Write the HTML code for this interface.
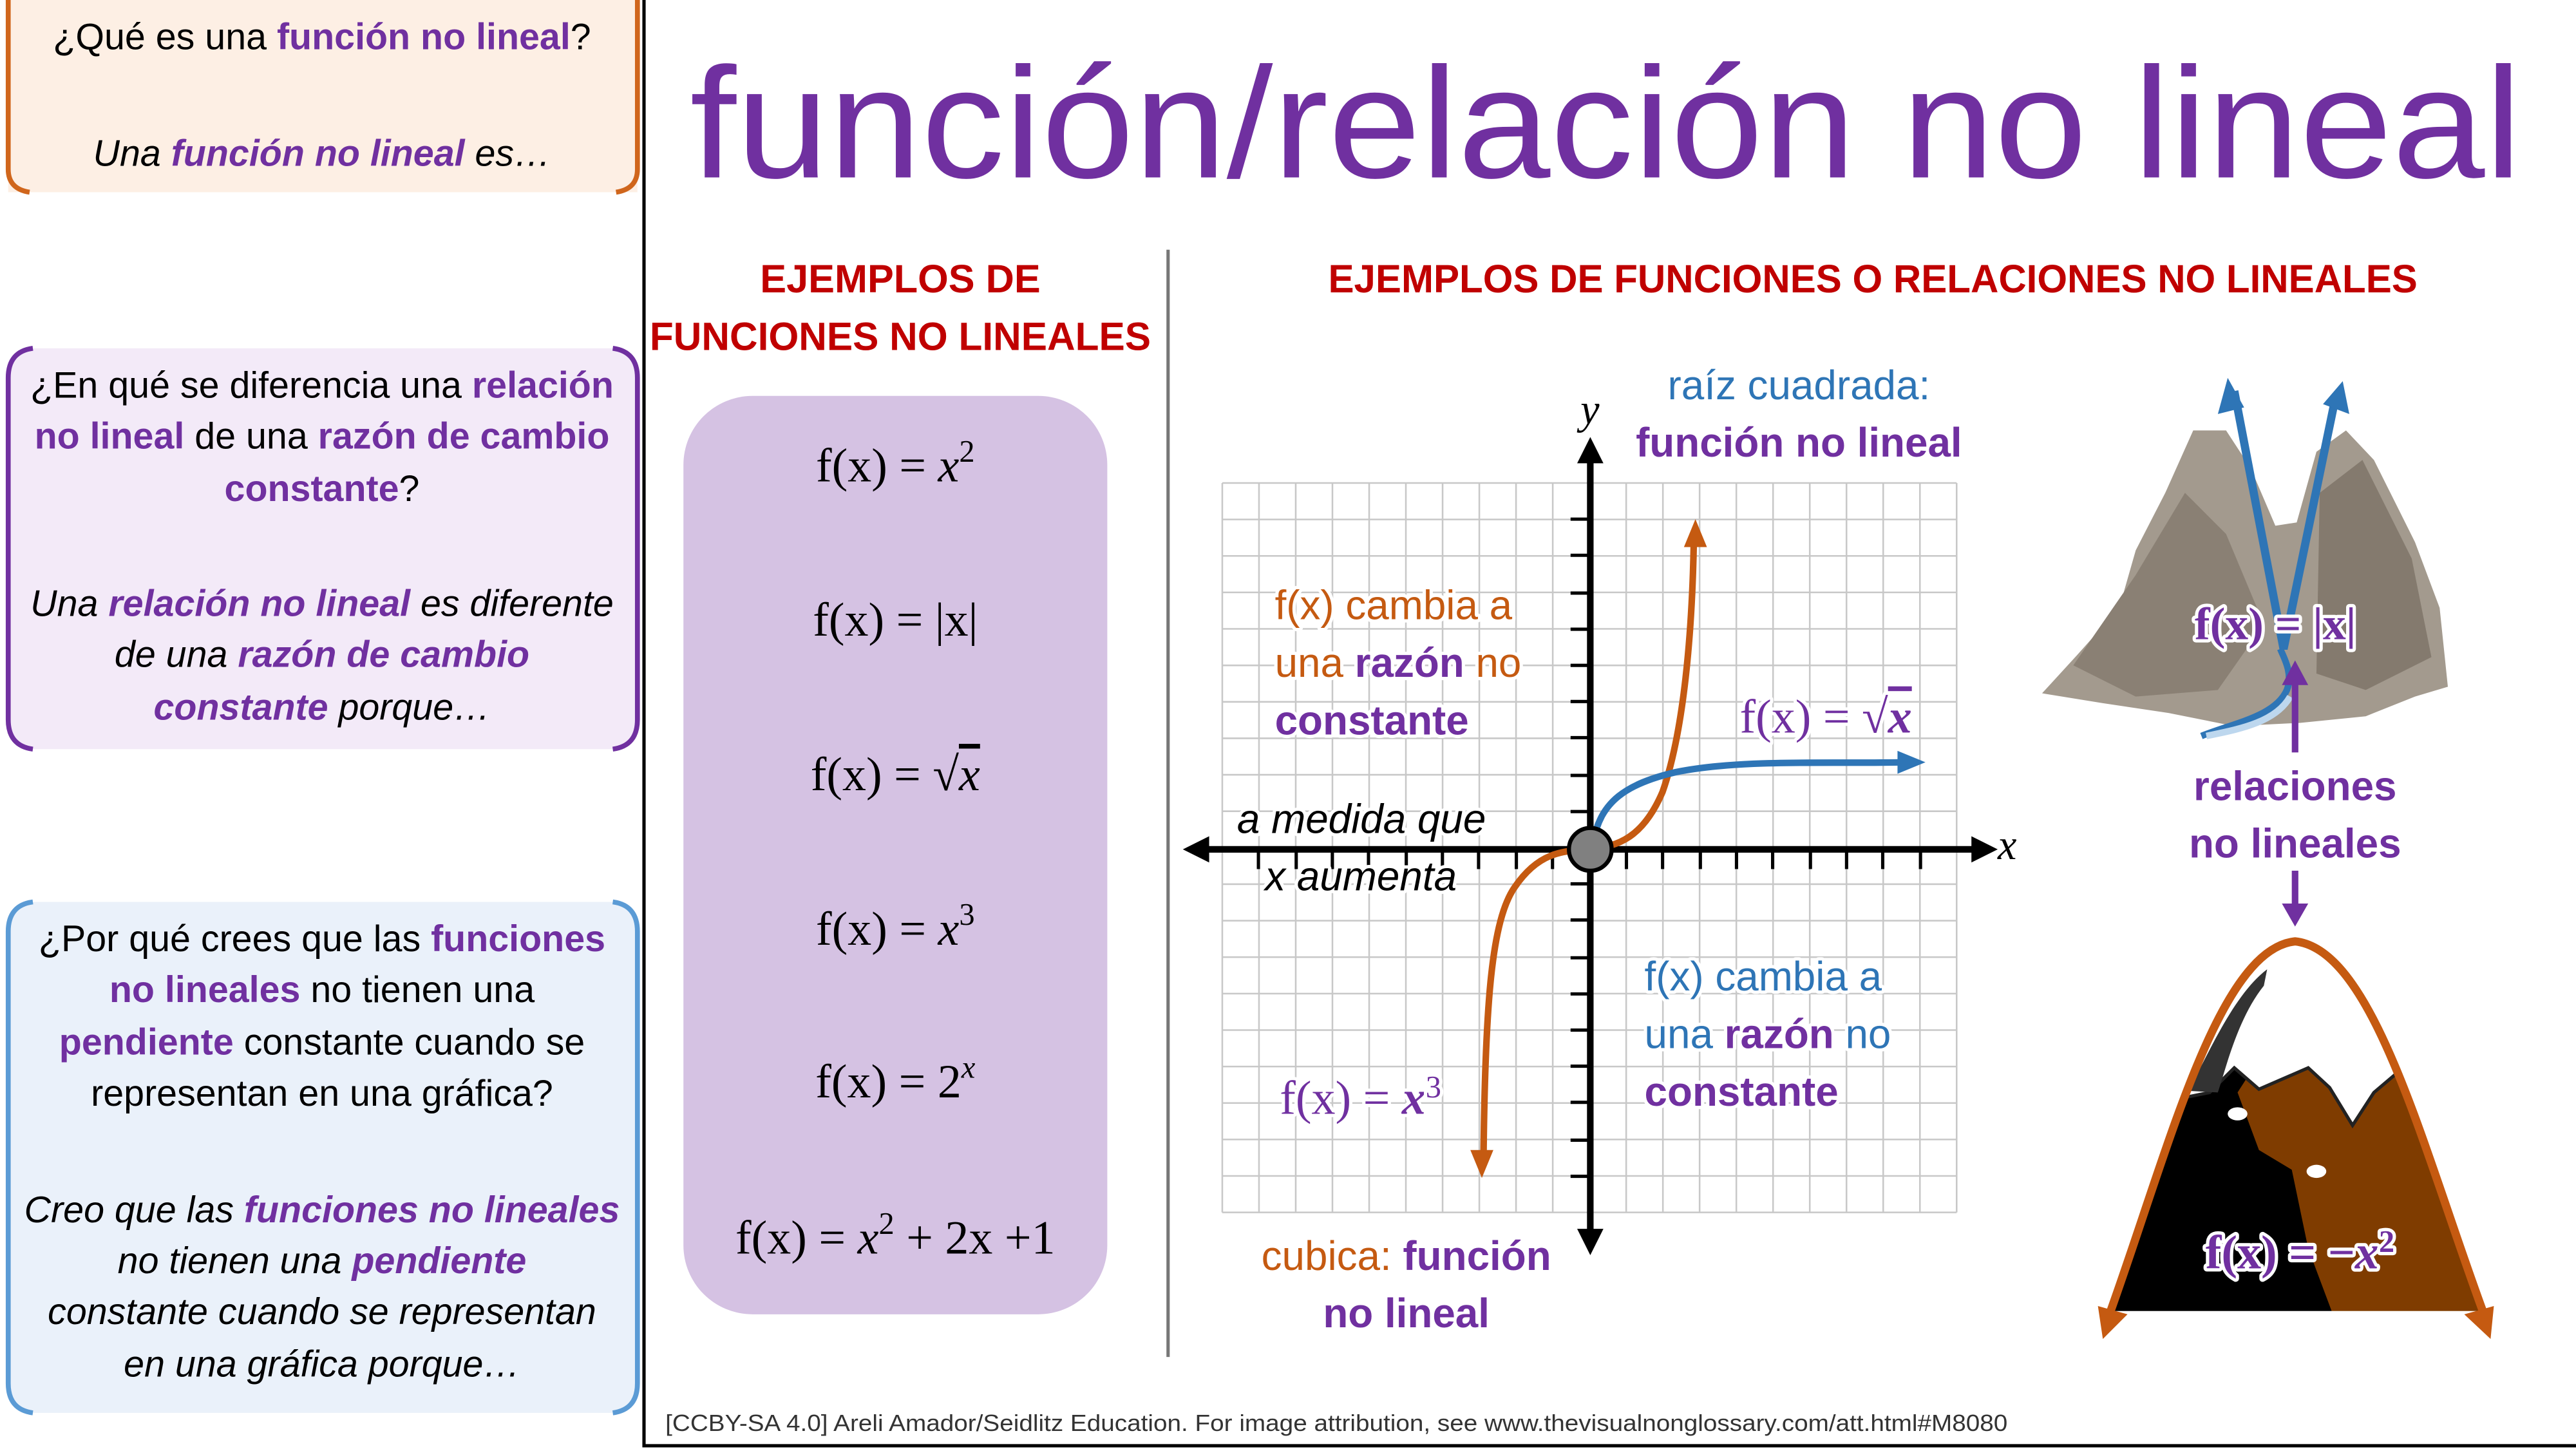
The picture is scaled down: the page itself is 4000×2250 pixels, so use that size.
<!DOCTYPE html>
<html><head><meta charset="utf-8"><style>
html,body{margin:0;padding:0;background:#fff}
svg{display:block}
text{font-family:"Liberation Sans",sans-serif}
.s, .s text, text.s{font-family:"Liberation Serif",serif}
.h{paint-order:stroke;stroke:#fff;stroke-width:4px;stroke-linejoin:round}
</style></head><body>
<svg width="4000" height="2250" viewBox="0 0 1568 882" xmlns="http://www.w3.org/2000/svg">
<defs>
<clipPath id="par"><path d="M1284,800 C1320,700 1350,578 1397,573 C1445,578 1475,700 1512,800 Z"/></clipPath>
</defs>
<rect width="1568" height="882" fill="#fff"/>
<!-- left boxes -->
<rect x="5" y="0" width="383" height="117" fill="#fdefe4"/>
<path d="M5,0 V103 Q5,115 18,117 M388,0 V103 Q388,115 375,117" fill="none" stroke="#d0661c" stroke-width="3"/>
<rect x="5" y="212" width="383" height="244" rx="16" fill="#f3eaf8"/>
<path d="M20,212 Q5,214 5,230 V438 Q5,454 20,456 M373,212 Q388,214 388,230 V438 Q388,454 373,456" fill="none" stroke="#7030a0" stroke-width="3"/>
<rect x="5" y="549" width="383" height="311" rx="16" fill="#eaf1fa"/>
<path d="M20,549 Q5,551 5,567 V842 Q5,858 20,860 M373,549 Q388,551 388,567 V842 Q388,858 373,860" fill="none" stroke="#5b9bd5" stroke-width="3"/>
<g font-size="22.5" text-anchor="middle" fill="#000">
<text x="196" y="30">¿Qué es una <tspan fill="#7030a0" font-weight="bold">función no lineal</tspan>?</text>
<text x="196" y="101" font-style="italic">Una <tspan fill="#7030a0" font-weight="bold">función no lineal</tspan> es…</text>
<text x="196" y="242">¿En qué se diferencia una <tspan fill="#7030a0" font-weight="bold">relación</tspan></text>
<text x="196" y="273"><tspan fill="#7030a0" font-weight="bold">no lineal</tspan> de una <tspan fill="#7030a0" font-weight="bold">razón de cambio</tspan></text>
<text x="196" y="305" fill="#7030a0" font-weight="bold">constante<tspan fill="#000" font-weight="normal">?</tspan></text>
<text x="196" y="375" font-style="italic">Una <tspan fill="#7030a0" font-weight="bold">relación no lineal</tspan> es diferente</text>
<text x="196" y="406" font-style="italic">de una <tspan fill="#7030a0" font-weight="bold">razón de cambio</tspan></text>
<text x="196" y="438" font-style="italic"><tspan fill="#7030a0" font-weight="bold">constante</tspan> porque…</text>
<text x="196" y="579">¿Por qué crees que las <tspan fill="#7030a0" font-weight="bold">funciones</tspan></text>
<text x="196" y="610"><tspan fill="#7030a0" font-weight="bold">no lineales</tspan> no tienen una</text>
<text x="196" y="642"><tspan fill="#7030a0" font-weight="bold">pendiente</tspan> constante cuando se</text>
<text x="196" y="673">representan en una gráfica?</text>
<text x="196" y="744" font-style="italic">Creo que las <tspan fill="#7030a0" font-weight="bold">funciones no lineales</tspan></text>
<text x="196" y="775" font-style="italic">no tienen una <tspan fill="#7030a0" font-weight="bold">pendiente</tspan></text>
<text x="196" y="806" font-style="italic">constante cuando se representan</text>
<text x="196" y="838" font-style="italic">en una gráfica porque…</text>
</g>
<!-- main frame -->
<path d="M392,0 V880 H1568" fill="none" stroke="#000" stroke-width="2"/>
<text x="420" y="108" font-size="96" fill="#7030a0" textLength="1115" lengthAdjust="spacingAndGlyphs">función/relación no lineal</text>
<g fill="#c00000" font-weight="bold" font-size="24" text-anchor="middle">
<text x="548" y="178">EJEMPLOS DE</text>
<text x="548" y="213" textLength="305" lengthAdjust="spacingAndGlyphs">FUNCIONES NO LINEALES</text>
<text x="1140" y="178" textLength="663" lengthAdjust="spacingAndGlyphs">EJEMPLOS DE FUNCIONES O RELACIONES NO LINEALES</text>
</g>
<line x1="711" y1="152" x2="711" y2="826" stroke="#777" stroke-width="2"/>
<rect x="416" y="241" width="258" height="559" rx="42" fill="#d5c2e3"/>
<g class="s" font-size="29" text-anchor="middle" fill="#000">
<text class="s" x="545" y="293">f(x) = <tspan font-style="italic">x</tspan><tspan font-size="19" dy="-12">2</tspan></text>
<text class="s" x="545" y="387">f(x) = |x|</text>
<text class="s" x="545" y="481">f(x) = √<tspan font-style="italic" text-decoration="overline">x</tspan></text>
<text class="s" x="545" y="575">f(x) =  <tspan font-style="italic">x</tspan><tspan font-size="19" dy="-12">3</tspan></text>
<text class="s" x="545" y="668">f(x) =  2<tspan font-style="italic" font-size="19" dy="-12">x</tspan></text>
<text class="s" x="545" y="763">f(x) =  <tspan font-style="italic">x</tspan><tspan font-size="19" dy="-12">2</tspan><tspan dy="12"> + 2x +1</tspan></text>
</g>
<!-- grid -->
<g stroke="#c8c8c8" stroke-width="1">
<path d="M744,294 V738 M766.35,294 V738 M788.7,294 V738 M811.05,294 V738 M833.4,294 V738 M855.75,294 V738 M878.1,294 V738 M900.45,294 V738 M922.8,294 V738 M945.15,294 V738 M967.5,294 V738 M989.85,294 V738 M1012.2,294 V738 M1034.55,294 V738 M1056.9,294 V738 M1079.25,294 V738 M1101.6,294 V738 M1123.95,294 V738 M1146.3,294 V738 M1168.65,294 V738 M1191,294 V738"/>
<path d="M744,294 H1191 M744,316.2 H1191 M744,338.4 H1191 M744,360.6 H1191 M744,382.8 H1191 M744,405 H1191 M744,427.2 H1191 M744,449.4 H1191 M744,471.6 H1191 M744,493.8 H1191 M744,516 H1191 M744,538.2 H1191 M744,560.4 H1191 M744,582.6 H1191 M744,604.8 H1191 M744,627 H1191 M744,649.2 H1191 M744,671.4 H1191 M744,693.6 H1191 M744,715.8 H1191 M744,738 H1191"/>
</g>
<g stroke="#000" stroke-width="2">
<path d="M956,316 H968 M956,338 H968 M956,361 H968 M956,383 H968 M956,405 H968 M956,427 H968 M956,449 H968 M956,472 H968 M956,494 H968 M956,538 H968 M956,560 H968 M956,583 H968 M956,605 H968 M956,627 H968 M956,649 H968 M956,671 H968 M956,694 H968 M956,716 H968"/>
<path d="M766,517 V529 M789,517 V529 M811,517 V529 M833,517 V529 M856,517 V529 M878,517 V529 M900,517 V529 M923,517 V529 M945,517 V529 M990,517 V529 M1012,517 V529 M1035,517 V529 M1057,517 V529 M1079,517 V529 M1102,517 V529 M1124,517 V529 M1146,517 V529 M1169,517 V529"/>
</g>
<line x1="732" y1="517" x2="1204" y2="517" stroke="#000" stroke-width="4"/>
<polygon points="720,517 736,509 736,525" fill="#000"/>
<polygon points="1216,517 1200,509 1200,525" fill="#000"/>
<line x1="968" y1="280" x2="968" y2="752" stroke="#000" stroke-width="4"/>
<polygon points="968,266 960,282 976,282" fill="#000"/>
<polygon points="968,764 960,748 976,748" fill="#000"/>
<!-- curves -->
<path d="M903,705 C904,610 908,560 922,540 C937,518 952,518 968,517 C985,515 1000,510 1012,482 C1025,445 1030,385 1031,330" fill="none" stroke="#c55a11" stroke-width="4"/>
<polygon points="902,717 895,700 909,700" fill="#c55a11"/>
<polygon points="1032,316 1025,333 1039,333" fill="#c55a11"/>
<path d="M970,512 C974,488 990,477 1020,470 C1060,462 1110,465 1160,464" fill="none" stroke="#2e75b6" stroke-width="4"/>
<polygon points="1172,464 1155,457 1155,471" fill="#2e75b6"/>
<circle cx="968" cy="517" r="13" fill="#808080" stroke="#000" stroke-width="2.5"/>
<text x="962" y="258" class="s" font-style="italic" font-size="26">y</text>
<text x="1216" y="523" class="s" font-style="italic" font-size="26">x</text>
<g font-size="25">
<text x="1095" y="243" fill="#2e75b6" text-anchor="middle">raíz cuadrada:</text>
<text x="1095" y="278" fill="#7030a0" font-weight="bold" text-anchor="middle">función no lineal</text>
<g class="h" fill="#c55a11"><text x="776" y="377">f(x) cambia a</text>
<text x="776" y="412">una <tspan fill="#7030a0" font-weight="bold">razón</tspan> no</text>
<text x="776" y="447" fill="#7030a0" font-weight="bold">constante</text></g>
<g class="h" fill="#2e75b6"><text x="1001" y="603">f(x) cambia a</text>
<text x="1001" y="638">una <tspan fill="#7030a0" font-weight="bold">razón</tspan> no</text>
<text x="1001" y="673" fill="#7030a0" font-weight="bold">constante</text></g>
<g class="h" font-style="italic" fill="#000"><text x="753" y="507">a medida que</text><text x="770" y="542">x aumenta</text></g>
<text x="1059" y="446" class="s h" fill="#7030a0" font-size="29">f(x) = √<tspan font-style="italic" font-weight="bold" text-decoration="overline">x</tspan></text>
<text x="779" y="678" class="s h" fill="#7030a0" font-size="29">f(x) = <tspan font-style="italic" font-weight="bold">x</tspan><tspan font-size="19" dy="-10">3</tspan></text>
<text x="856" y="773" text-anchor="middle" fill="#c55a11">cubica: <tspan fill="#7030a0" font-weight="bold">función</tspan></text>
<text x="856" y="808" text-anchor="middle" fill="#7030a0" font-weight="bold">no lineal</text>
</g>
<!-- top mountain -->
<path d="M1243,422 L1265,398 L1290,370 L1300,335 L1318,300 L1335,262 L1355,262 L1370,285 L1385,320 L1398,318 L1410,275 L1428,262 L1445,280 L1455,300 L1470,330 L1485,370 L1490,418 L1470,424 L1440,436 L1400,440 L1360,442 L1320,434 L1280,428 Z" fill="#a39a8e"/>
<path d="M1262,405 L1300,350 L1330,300 L1355,325 L1378,380 L1350,420 L1300,424 Z" fill="#8a8074"/>
<path d="M1412,300 L1438,280 L1468,340 L1480,400 L1440,420 L1410,410 Z" fill="#847a6e"/>
<path d="M1340,448 C1360,440 1385,436 1392,420 C1396,410 1390,400 1388,395" fill="none" stroke="#2e75b6" stroke-width="4"/>
<path d="M1343,448 C1362,444 1385,440 1394,424" fill="none" stroke="#bdd7ee" stroke-width="4"/>
<path d="M1360,238 L1390,395 L1422,240" fill="none" stroke="#2e75b6" stroke-width="5"/>
<polygon points="1356,230 1350,252 1366,248" fill="#2e75b6"/>
<polygon points="1426,232 1414,246 1430,252" fill="#2e75b6"/>
<text x="1385" y="389" class="s h" font-size="28" fill="#7030a0" text-anchor="middle" font-weight="bold">f(x) = |x|</text>
<line x1="1397" y1="458" x2="1397" y2="415" stroke="#7030a0" stroke-width="4"/>
<polygon points="1397,402 1389,417 1405,417" fill="#7030a0"/>
<text x="1397" y="487" text-anchor="middle" font-size="25" font-weight="bold" fill="#7030a0">relaciones</text>
<text x="1397" y="522" text-anchor="middle" font-size="25" font-weight="bold" fill="#7030a0">no lineales</text>
<line x1="1397" y1="530" x2="1397" y2="553" stroke="#7030a0" stroke-width="4"/>
<polygon points="1397,564 1389,550 1405,550" fill="#7030a0"/>
<!-- bottom mountain -->
<g clip-path="url(#par)">
<rect x="1280" y="570" width="240" height="230" fill="#7f3c00"/>
<path d="M1280,800 L1280,600 L1370,600 L1378,640 L1362,665 L1375,700 L1395,712 L1405,760 L1420,800 Z" fill="#000"/>
<path d="M1280,570 L1520,570 L1520,665 L1480,660 L1458,654 L1445,665 L1432,685 L1418,662 L1405,650 L1375,663 L1360,650 L1345,665 L1330,668 L1280,670 Z" fill="#fff"/>
<path d="M1330,668 L1345,665 L1360,650 L1375,663 L1405,650 L1418,662 L1432,685 L1445,665 L1458,654 L1480,660" fill="none" stroke="#222" stroke-width="2"/>
<path d="M1332,664 C1345,640 1360,605 1380,590 L1378,600 C1362,620 1355,650 1350,665 Z" fill="#333"/>
<ellipse cx="1362" cy="678" rx="6" ry="4" fill="#fff"/>
<ellipse cx="1410" cy="713" rx="6" ry="4" fill="#fff"/>
</g>
<rect x="1280" y="798" width="240" height="20" fill="#fff"/>
<path d="M1284,800 C1320,700 1350,578 1397,573 C1445,578 1475,700 1512,800" fill="none" stroke="#c55a11" stroke-width="5"/>
<polygon points="1280,815 1277,795 1295,800" fill="#c55a11"/>
<polygon points="1516,815 1500,800 1518,795" fill="#c55a11"/>
<text x="1400" y="772" class="s h" font-size="29" fill="#7030a0" text-anchor="middle" font-weight="bold">f(x) = −<tspan font-style="italic">x</tspan><tspan font-size="19" dy="-10">2</tspan></text>
<text x="405" y="871" font-size="14" fill="#333" textLength="817" lengthAdjust="spacingAndGlyphs">[CCBY-SA 4.0] Areli Amador/Seidlitz Education.  For image attribution, see www.thevisualnonglossary.com/att.html#M8080</text>
</svg>
</body></html>
